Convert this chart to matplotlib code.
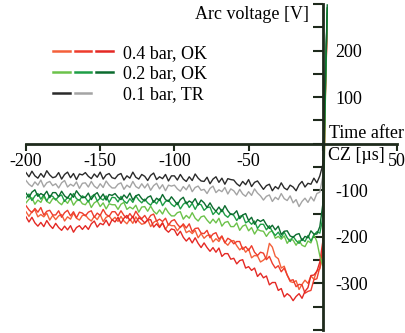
import numpy as np
import matplotlib.pyplot as plt
from matplotlib.lines import Line2D
from matplotlib.legend_handler import HandlerTuple

plt.rcParams['font.family'] = ['Liberation Serif', 'DejaVu Serif']
plt.rcParams['font.size'] = 13

# time axis [us] : one sample every 2 us up to CZ, then the sharp rise
time_us = list(range(-200, 1, 2)) + [1.5, 3.0]

# 0.1 bar, TR
v_black = [-62, -71, -59, -69, -74, -64, -72, -58, -67, -73,
           -71, -62, -76, -66, -61, -73, -64, -77, -65, -67,
           -62, -70, -75, -65, -72, -61, -76, -67, -64, -73,
           -75, -67, -64, -78, -69, -74, -61, -72, -76, -66,
           -70, -79, -68, -63, -77, -71, -75, -66, -80, -69,
           -69, -78, -66, -76, -81, -71, -79, -65, -74, -80,
           -81, -72, -86, -76, -71, -83, -74, -87, -75, -77,
           -78, -86, -91, -81, -88, -77, -92, -83, -80, -89,
           -98, -90, -87, -101, -92, -97, -84, -95, -99, -89,
           -93, -101, -88, -81, -93, -85, -87, -74, -84, -69,
           -45, 120, 280]
v_gray = [-79, -87, -92, -82, -89, -78, -93, -84, -81, -90,
          -86, -95, -84, -79, -93, -87, -91, -82, -96, -85,
          -84, -93, -81, -91, -96, -86, -94, -80, -89, -95,
          -95, -87, -84, -98, -89, -94, -81, -92, -96, -86,
          -95, -86, -100, -90, -85, -97, -88, -101, -89, -91,
          -89, -97, -102, -92, -99, -88, -103, -94, -91, -100,
          -98, -107, -96, -91, -105, -99, -103, -94, -108, -97,
          -101, -110, -98, -108, -113, -103, -111, -97, -106, -112,
          -121, -113, -110, -124, -115, -120, -107, -118, -122, -112,
          -127, -120, -135, -124, -117, -126, -114, -123, -107, -104,
          -70, 100, 285]

# 0.2 bar, OK
v_green_dark = [-106, -115, -104, -99, -113, -107, -111, -102, -116, -105,
                -105, -114, -102, -112, -117, -107, -115, -101, -110, -116,
                -115, -106, -120, -110, -105, -117, -108, -121, -109, -111,
                -107, -115, -120, -110, -117, -106, -121, -112, -109, -118,
                -123, -115, -112, -126, -117, -122, -109, -120, -124, -114,
                -122, -131, -120, -115, -129, -123, -127, -118, -132, -121,
                -127, -137, -127, -138, -145, -136, -146, -133, -144, -152,
                -151, -144, -161, -153, -150, -165, -158, -173, -163, -167,
                -163, -174, -182, -175, -185, -177, -195, -188, -187, -198,
                -201, -195, -193, -208, -199, -202, -187, -194, -194, -178,
                -130, 100, 298]
v_green_mid = [-117, -108, -122, -112, -107, -119, -110, -123, -111, -113,
               -121, -113, -110, -124, -115, -120, -107, -118, -122, -112,
               -116, -125, -114, -109, -123, -117, -121, -112, -126, -115,
               -116, -125, -113, -123, -128, -118, -126, -112, -121, -127,
               -119, -127, -132, -122, -129, -118, -133, -124, -121, -130,
               -135, -126, -140, -130, -125, -137, -128, -141, -129, -131,
               -143, -137, -136, -152, -145, -152, -141, -153, -158, -150,
               -154, -165, -156, -154, -170, -166, -173, -166, -182, -173,
               -173, -185, -176, -189, -197, -190, -201, -190, -202, -210,
               -199, -208, -214, -204, -210, -197, -209, -196, -189, -192,
               -160, 80, 292]
v_green_light = [-127, -119, -116, -130, -121, -126, -113, -124, -128, -118,
                 -118, -126, -131, -121, -128, -117, -132, -123, -120, -129,
                 -131, -122, -137, -127, -123, -135, -127, -140, -129, -131,
                 -131, -141, -130, -126, -141, -136, -140, -132, -147, -136,
                 -135, -145, -134, -145, -151, -142, -151, -138, -148, -155,
                 -155, -148, -146, -162, -154, -160, -148, -160, -166, -157,
                 -155, -164, -171, -162, -170, -160, -177, -169, -167, -178,
                 -178, -170, -186, -177, -174, -187, -180, -194, -184, -187,
                 -188, -199, -190, -187, -203, -199, -205, -198, -214, -205,
                 -207, -218, -208, -218, -221, -209, -213, -195, -210, -241,
                 -262, 60, 290]

# 0.4 bar, OK
v_red = [-157, -168, -158, -170, -177, -169, -178, -165, -175, -182,
         -171, -180, -186, -177, -185, -176, -190, -180, -176, -184,
         -176, -184, -172, -166, -179, -171, -174, -164, -176, -163,
         -168, -158, -171, -160, -154, -165, -156, -170, -159, -163,
         -170, -164, -163, -179, -172, -180, -170, -184, -190, -183,
         -185, -197, -188, -201, -209, -202, -213, -202, -214, -223,
         -213, -223, -231, -223, -233, -224, -242, -236, -236, -248,
         -246, -258, -251, -249, -267, -264, -272, -267, -285, -278,
         -288, -284, -303, -298, -298, -315, -311, -329, -322, -327,
         -337, -328, -322, -332, -317, -309, -283, -282, -274, -254,
         -210, 90, 270]
v_red_mid = [-133, -142, -148, -139, -147, -137, -153, -145, -143, -153,
             -153, -144, -158, -148, -143, -155, -146, -159, -147, -149,
             -155, -147, -144, -158, -149, -154, -141, -152, -156, -146,
             -146, -155, -144, -154, -160, -150, -159, -145, -155, -161,
             -154, -164, -154, -151, -166, -162, -167, -160, -175, -166,
             -163, -173, -180, -172, -181, -172, -189, -182, -181, -192,
             -193, -186, -202, -194, -191, -205, -198, -213, -203, -207,
             -215, -210, -210, -227, -221, -229, -219, -233, -240, -233,
             -235, -249, -242, -257, -267, -262, -275, -267, -282, -294,
             -292, -307, -302, -303, -321, -317, -315, -292, -290, -265,
             -225, 80, 265]
v_orange = [-146, -156, -146, -142, -157, -152, -157, -149, -164, -154,
            -163, -155, -152, -166, -157, -162, -149, -160, -164, -154,
            -153, -161, -166, -156, -163, -152, -167, -158, -155, -164,
            -158, -167, -156, -166, -172, -162, -171, -157, -167, -173,
            -171, -163, -178, -169, -165, -178, -170, -184, -173, -176,
            -176, -187, -178, -175, -191, -187, -193, -186, -202, -193,
            -203, -197, -196, -211, -204, -210, -199, -212, -218, -209,
            -208, -219, -228, -222, -233, -226, -245, -240, -241, -254,
            -250, -244, -214, -222, -242, -247, -267, -263, -282, -296,
            -298, -294, -313, -302, -293, -300, -284, -291, -273, -269,
            -240, 70, 260]

x_ticks = [-200, -150, -100, -50, 0, 50]
x_tick_labels = ['-200', '-150', '-100', '-50', '', '50']
y_ticks = [-400, -350, -300, -250, -200, -150, -100, -50, 0, 50, 100, 150, 200, 250, 300]
y_tick_labels = ['', '', '-300', '', '-200', '', '-100', '', '', '', '100', '', '200', '', '']

red_colors = ['#f4603a', '#ee3c2c', '#e42824']
green_colors = ['#6cc24a', '#1e9e46', '#0b6b2e']
tr_colors = ['#2a2a2a', '#a4a4a4']
axis_color = '#1e2a1c'

fig = plt.figure(figsize=(4.06, 3.33), dpi=100)
ax = fig.add_axes([26 / 406, 3 / 333, 371 / 406, 326 / 333])

for v, c in zip([v_orange, v_red_mid, v_red], red_colors):
    ax.plot(time_us, v, color=c, lw=1.0)
ax.plot(time_us, v_gray, color=tr_colors[1], lw=1.0)
ax.plot(time_us, v_black, color=tr_colors[0], lw=1.0)
for v, c in zip([v_green_light, v_green_mid, v_green_dark], green_colors):
    ax.plot(time_us, v, color=c, lw=1.0)

ax.set_xlim(-200, 50)
ax.set_ylim(-400, 300)

ax.spines['left'].set_position(('data', 0))
ax.spines['bottom'].set_position(('data', 0))
ax.spines['top'].set_visible(False)
ax.spines['right'].set_visible(False)
for s in ['left', 'bottom']:
    ax.spines[s].set_linewidth(2)
    ax.spines[s].set_color(axis_color)

ax.set_xticks(x_ticks, x_tick_labels)
ax.set_yticks(y_ticks, y_tick_labels)
ax.tick_params(axis='x', direction='out', length=5, width=1.5, color=axis_color, pad=2)
ax.tick_params(axis='y', direction='out', length=7, width=1.5, color=axis_color, pad=-16)
for lab in ax.get_yticklabels():
    lab.set_ha('left')

ax.text(-9, 277, 'Arc voltage [V]', ha='right', va='center')
ax.text(4, 22, 'Time after', ha='left', va='center')
ax.text(3.5, -26, 'CZ [µs]', ha='left', va='center')

# legend : one dash per shot
handles = [tuple(Line2D([], [], color=c, lw=1.8) for c in red_colors),
           tuple(Line2D([], [], color=c, lw=1.8) for c in green_colors),
           tuple(Line2D([], [], color=c, lw=1.8) for c in tr_colors + ['none'])]
labels = ['0.4 bar, OK', '0.2 bar, OK', '0.1 bar, TR']
ax.legend(handles, labels, handler_map={tuple: HandlerTuple(ndivide=None, pad=0.28)},
          loc='upper left', bbox_to_anchor=(0.073, 0.875), frameon=False,
          handlelength=3.3, handletextpad=0.6, labelspacing=0.2,
          borderaxespad=0, borderpad=0)

fig.savefig('out.png', dpi=100)
